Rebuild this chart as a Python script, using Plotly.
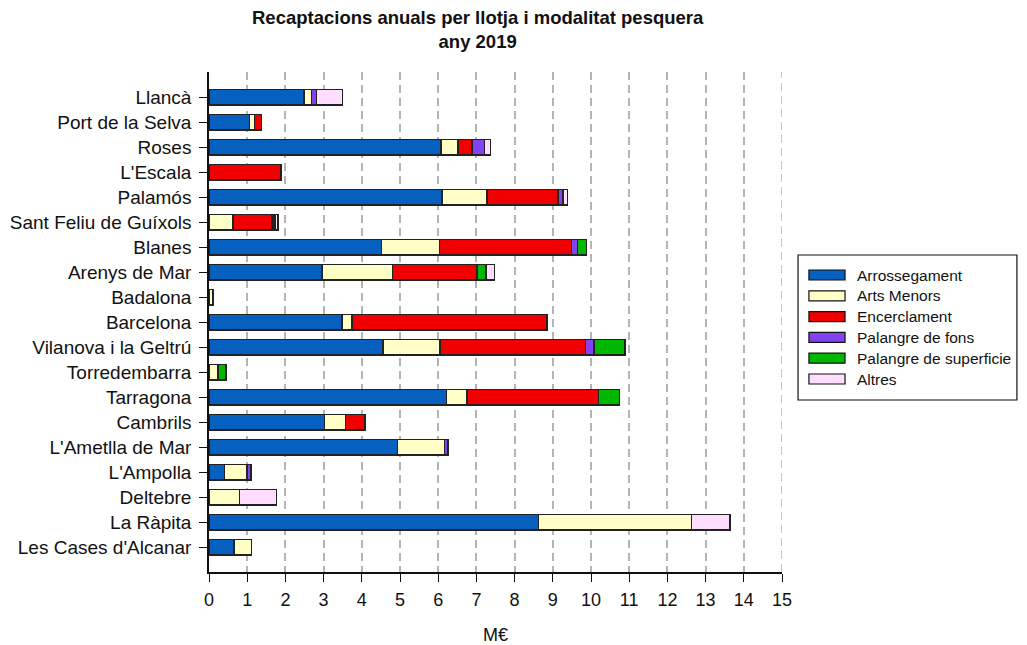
import plotly.graph_objects as go

# ports, top to bottom as in the chart
llotges = ["Llancà", "Port de la Selva", "Roses", "L'Escala", "Palamós",
           "Sant Feliu de Guíxols", "Blanes", "Arenys de Mar", "Badalona",
           "Barcelona", "Vilanova i la Geltrú", "Torredembarra", "Tarragona",
           "Cambrils", "L'Ametlla de Mar", "L'Ampolla", "Deltebre", "La Ràpita",
           "Les Cases d'Alcanar"]

# M€ per fishing type
arrossegament = [2.49, 1.06, 6.07, 0, 6.10, 0, 4.51, 2.96, 0, 3.48, 4.56, 0, 6.22, 3.02, 4.93, 0.41, 0, 8.62, 0.66]
arts_menors = [0.19, 0.13, 0.45, 0, 1.18, 0.63, 1.53, 1.84, 0.10, 0.26, 1.49, 0.23, 0.53, 0.55, 1.23, 0.58, 0.80, 4.01, 0.45]
encerclament = [0, 0.19, 0.37, 1.89, 1.86, 1.01, 3.45, 2.22, 0, 5.11, 3.81, 0, 3.44, 0.51, 0, 0, 0, 0, 0]
palangre_fons = [0.13, 0, 0.32, 0, 0.13, 0.03, 0.16, 0, 0, 0, 0.22, 0, 0, 0, 0.09, 0.11, 0, 0, 0]
palangre_superficie = [0, 0, 0, 0, 0, 0.06, 0.23, 0.23, 0, 0, 0.81, 0.21, 0.55, 0, 0, 0, 0, 0, 0]
altres = [0.68, 0, 0.16, 0, 0.12, 0.07, 0, 0.23, 0, 0, 0, 0, 0, 0, 0, 0, 0.97, 1.01, 0]

series = [
    ("Arrossegament", arrossegament, "#0560C0"),
    ("Arts Menors", arts_menors, "#FFFFC6"),
    ("Encerclament", encerclament, "#F20000"),
    ("Palangre de fons", palangre_fons, "#8244F2"),
    ("Palangre de superficie", palangre_superficie, "#00B800"),
    ("Altres", altres, "#FFDDFF"),
]

FONT = "Liberation Sans, Arial, sans-serif"
GRID = dict(color="#B4B4B4", width=1.5, dash="8px,5px")

fig = go.Figure()
for name, vals, color in series:
    fig.add_trace(go.Bar(
        y=llotges, x=[v if v else None for v in vals], name=name, orientation="h",
        marker=dict(color=color, line=dict(color="#222", width=1.5)),
        showlegend=False,
    ))

# plotly skips the gridline sitting on the right edge, so draw it
fig.add_vline(x=15, line=GRID, layer="below")

# hand-drawn legend (wide swatches like the original)
fig.add_shape(type="rect", xref="paper", yref="paper", x0=1.028, x1=1.410, y0=0.344, y1=0.634,
              line=dict(color="#111", width=1.2), fillcolor="white")
y0 = 0.594
for i, (name, vals, color) in enumerate(series):
    yc = y0 - i * 0.0416
    fig.add_shape(type="rect", xref="paper", yref="paper", x0=1.047, x1=1.110,
                  y0=yc - 0.010, y1=yc + 0.010, fillcolor=color, line=dict(color="#111", width=1.2))
    fig.add_annotation(xref="paper", yref="paper", x=1.128, y=yc, text=name, showarrow=False,
                       xanchor="left", yanchor="middle", font=dict(size=15.5, color="#111"))

# title
fig.add_annotation(xref="paper", yref="paper", x=0.469, y=1.135, xanchor="center", yanchor="top",
                   text="<b>Recaptacions anuals per llotja i modalitat pesquera<br>any 2019</b>",
                   showarrow=False, font=dict(size=18.5, color="#111"))

# page body has an 8px margin, so the figure is sized/offset to compensate
fig.update_layout(
    barmode="stack", bargap=0.38,
    width=1019, height=637,
    margin=dict(l=201, r=245, t=64, b=73, autoexpand=False),
    plot_bgcolor="white", paper_bgcolor="white",
    font=dict(family=FONT, color="#111"),
)
fig.update_xaxes(range=[0, 15], dtick=1, tick0=0, showgrid=True, gridcolor=GRID["color"],
                 griddash=GRID["dash"], gridwidth=GRID["width"], showline=True, linecolor="#111",
                 linewidth=1.5, ticks="outside", ticklen=8, tickcolor="#111", tickfont=dict(size=18),
                 zeroline=False, automargin=False, ticklabelstandoff=3,
                 title=dict(text="M€", font=dict(size=18), standoff=19))
fig.update_yaxes(categoryorder="array", categoryarray=llotges, range=[len(llotges), -1],
                 showgrid=False, showline=True, linecolor="#111", linewidth=1.5, ticks="outside",
                 ticklen=8, tickcolor="#111", tickfont=dict(size=19), ticklabelstandoff=4,
                 automargin=False)

fig.write_html("out.html")
